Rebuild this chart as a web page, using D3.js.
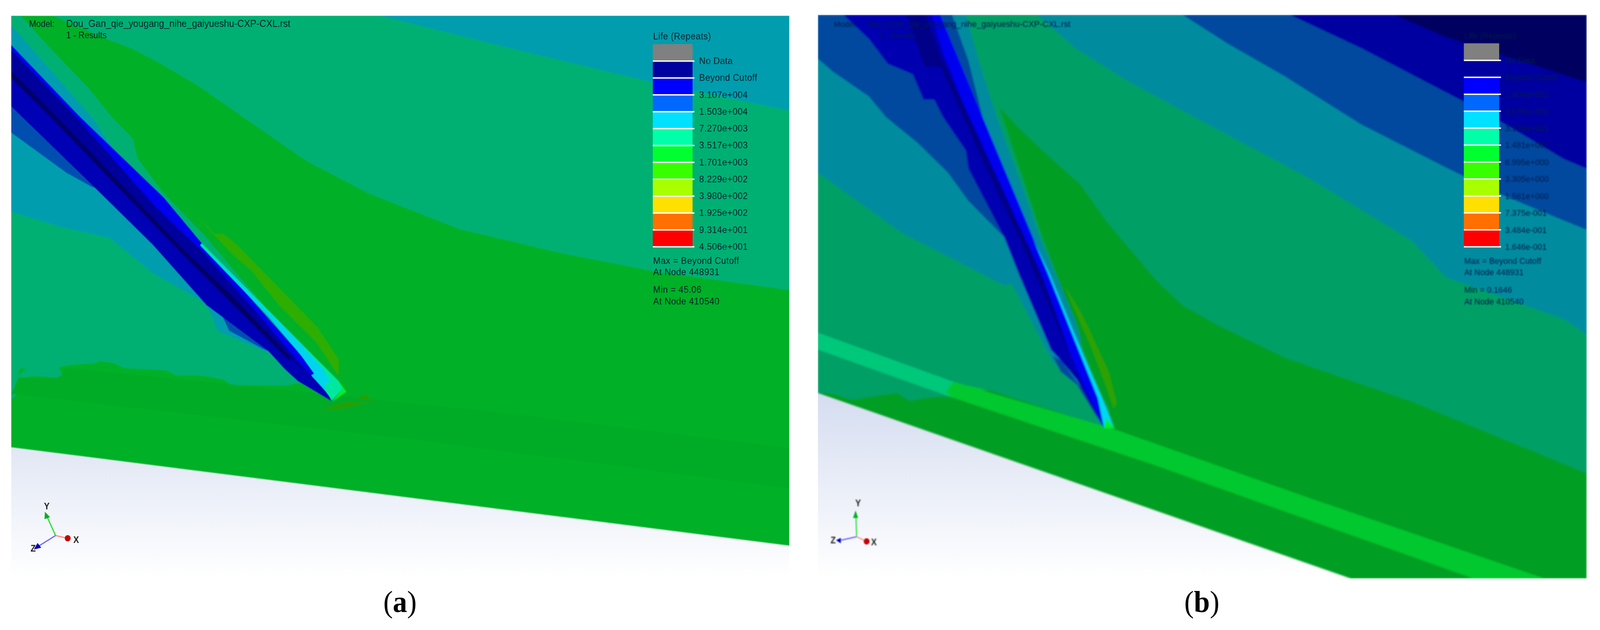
<!DOCTYPE html>
<html>
<head>
<meta charset="utf-8">
<script src="https://cdn.jsdelivr.net/npm/d3@7"></script>
<style>
  html, body { margin: 0; background: #fff; overflow: hidden; }
  text { font-family: "Liberation Sans", Arial, sans-serif; }
</style>
</head>
<body>
<div id="chart"></div>
<script>
var svgWidth = 4348;
var svgHeight = 1614;

// legend tables
var bandColors = ["#808080", "#00009f", "#0000ff", "#0068ff", "#00e0ff", "#00ffa8", "#00ff30", "#38ff00", "#a8ff00", "#ffe000", "#ff7000", "#ff0000"];
var labelsA = ["No Data", "Beyond Cutoff", "3.107e+004", "1.503e+004", "7.270e+003", "3.517e+003", "1.701e+003", "8.229e+002", "3.980e+002", "1.925e+002", "9.314e+001", "4.506e+001"];
var labelsB = ["No Data", "Beyond Cutoff", "1.404e+002", "6.635e+001", "3.134e+001", "1.481e+001", "6.995e+000", "3.305e+000", "1.561e+000", "7.375e-001", "3.484e-001", "1.646e-001"];
var notesA = ["Max = Beyond Cutoff", "At Node 448931", "Min = 45.06", "At Node 410540"];
var notesB = ["Max = Beyond Cutoff", "At Node 448931", "Min = 0.1646", "At Node 410540"];

// contour outlines of (a), in view units 0-1568
var aModel = [[22,39],[1547,39],[1547,1358],[22,1113]];
var aTealRight = [[103,39],[215,100],[257,120],[310,155],[389,214],[476,291],[600,400],[720,480],[900,570],[1100,630],[1280,675],[1547,722],[1547,39]];
var aTealLeft = [[22,39],[41,39],[91,110],[174,220],[219,291],[260,345],[270,395],[320,480],[399,583],[526,774],[664,949],[649,998],[588,952],[563,959],[454,958],[437,944],[393,934],[345,934],[327,922],[242,916],[224,904],[195,899],[184,905],[147,907],[115,913],[122,933],[115,952],[119,959],[117,972],[104,957],[110,940],[70,936],[36,940],[37,934],[51,918],[42,916],[37,920],[36,939],[30,959],[33,983],[22,994]];
var aDarkBand = [[125,916],[419,952],[591,975],[1000,1030],[1547,1115],[1547,1215],[800,1092],[591,1062],[22,980],[30,959],[36,940],[110,940],[122,933]];
var aBlueTop = [[745,39],[1000,120],[1280,205],[1547,275],[1547,39]];
var aBlueUpper = [[22,63],[22,125],[157,300],[320,500],[320,490],[230,385],[180,291]];
var aBlueLower = [[22,300],[22,527],[120,565],[215,592],[300,680],[390,745],[407,764],[427,824],[532,881],[554,913],[590,950],[526,860],[405,740],[180,440],[43,280]];
var aMidBlue = [[22,265],[22,330],[130,430],[180,465],[220,480],[120,360],[43,280]];
var aMidPatch = [[435,784],[449,823],[515,868],[526,874],[470,790]];
var aShaft = [[22,112],[157,291],[320,490],[396,606],[590,884],[616,930],[640,970],[649,998],[584,949],[559,920],[526,874],[405,760],[300,610],[180,460],[43,291],[22,265]];
var aNavy = [[22,125],[149,291],[305,515],[395,622],[498,770],[581,895],[614,926],[610,934],[568,894],[454,735],[360,622],[112,291],[22,176]];
var aStripe = [[22,176],[112,291],[360,622],[454,735],[570,890],[566,897],[454,755],[360,636],[99,291],[22,194]];
var aBright = [[22,112],[157,291],[320,490],[396,606],[590,884],[616,930],[610,934],[581,895],[498,770],[392,620],[305,515],[149,291],[22,125]];
var aMint = [[396,606],[664,949],[671,968],[651,996],[637,972],[616,930],[590,884],[526,787],[392,610]];
var aCyan = [[394,608],[526,775],[585,850],[634,920],[648,952],[637,952],[637,972],[610,934],[616,930],[590,884],[526,787]];
var aTip = [[664,949],[679,975],[652,999],[671,968]];
var aOlive = [[380,530],[421,583],[438,583],[465,610],[623,816],[664,895],[664,931],[661,931],[620,852],[548,761],[493,674],[454,631]];
var aOliveLow1 = [[630,1020],[678,1001],[725,1002],[664,1018]];
var aOliveLow2 = [[699,990],[715,983],[732,997],[719,995]];

// contour outlines of (b)
var bModel = [[35,37],[1542,37],[1542,1440],[1080,1440],[35,978]];
var bTealGreen = [[35,37],[1542,37],[1542,1178],[1200,1000],[950,890],[820,810],[750,760],[700,700],[650,625],[600,550],[550,460],[480,380],[430,320],[390,265],[475,590],[520,740],[590,1000],[617,1068],[590,1060],[370,970],[300,985],[245,990],[215,998],[190,978],[150,985],[100,995],[65,980],[35,978]];
var bTealRight = [[465,37],[540,120],[640,200],[800,310],[1000,445],[1200,600],[1266,690],[1497,794],[1542,832],[1542,37]];
var bMidRight = [[750,37],[840,110],[950,190],[1100,310],[1266,417],[1372,483],[1497,549],[1542,572],[1542,37]];
var bNavyRight = [[960,37],[1100,120],[1266,230],[1350,285],[1497,396],[1542,420],[1542,37]];
var bDeepRight = [[1165,37],[1266,92],[1497,186],[1542,205],[1542,37]];
var bTealLeft = [[35,37],[35,430],[200,580],[400,710],[415,706],[495,900],[514,923],[543,952],[584,1043],[591,1056],[500,800],[430,680],[280,37]];
var bTealStrip = [[277,37],[325,37],[350,150],[385,290],[440,480],[470,590],[500,680],[540,800],[552,852],[540,852],[486,680],[358,291]];
var bMidLeft = [[35,37],[35,146],[64,178],[135,240],[168,291],[230,355],[290,430],[330,500],[400,590],[430,680],[400,590],[280,37]];
var bMidStrip = [[275,37],[298,37],[330,150],[358,291],[320,200]];
var bMidPatch = [[495,885],[511,925],[543,958],[585,1045],[560,980],[511,897]];
var bShaft = [[85,37],[135,97],[172,159],[221,185],[242,248],[263,248],[280,291],[325,375],[330,420],[400,590],[428,680],[492,871],[511,897],[543,946],[591,1056],[596,1065],[584,991],[540,852],[486,680],[358,291],[275,37]];
var bDark = [[209,37],[246,37],[284,167],[244,165]];
var bDarkLine = [[270,150],[280,150],[370,400],[450,620],[530,860],[522,862],[440,622],[358,400]];
var bBright = [[258,37],[280,130],[321,259],[473,680],[528,874],[560,971],[591,1050],[596,1065],[584,991],[540,852],[486,680],[358,291],[275,37]];
var bCyan = [[455,590],[489,680],[545,852],[600,1013],[615,1064],[596,1065],[584,991],[540,852],[486,680]];
var bTip = [[600,1040],[617,1066],[596,1066]];
var bOlive = [[519,712],[550,777],[569,826],[605,926],[621,1004],[615,1017],[598,955],[572,868],[535,761]];
var bStripMint = [[35,828],[300,950],[300,990],[35,870]];
var bStripGreen = [[300,950],[620,1070],[1000,1240],[1460,1440],[1320,1440],[700,1160],[300,990]];
var bStripFlecks = [[300,952],[372,972],[300,965],[300,980],[372,978],[300,990],[285,975]];

var colors = {
  model: "#00b026", modelDark: "#00ab26", teal: "#00b073", tealBlue: "#009dae", midBlue: "#0050b0",
  shaft: "#0000b4", navy: "#00009c", stripe: "#00006a", bright: "#0000ee", mint: "#00e8a0", cyan: "#00d4ee", tip: "#00ee30", olive: "#2eae00", oliveLow: "#28a000",
  bModel: "#009e20", bTeal: "#009f66", bTealBlue: "#008c9e", bMid: "#00489e", bNavy: "#0000a0", bDeep: "#000060", bShaft: "#0000b0", bDark: "#000088", bBright: "#0000f0", bCyan: "#00d8f0", bOlive: "#2fa200", bStripMint: "#00c87a", bStripGreen: "#00c82e"
};

// view units to pixels, one square view per half of the figure
var viewX = d3.scaleLinear().domain([0, 1568]).range([0, svgWidth / 2]);
var viewY = d3.scaleLinear().domain([0, 1568]).range([0, svgHeight]);
var outline = d3.line().x(d => viewX(d[0])).y(d => viewY(d[1]));

// the viewBox keeps the whole figure on the page whatever the window really is
var svg = d3.select("#chart")
  .append("svg")
  .attr("viewBox", `0 0 ${svgWidth} ${svgHeight}`)
  .attr("preserveAspectRatio", "none")
  .style("width", "100vw")
  .style("height", "100vh")
  .style("display", "block");

var defs = svg.append("defs");

function addBlur(id, amount) {
  defs.append("filter").attr("id", id)
    .attr("x", "-5%").attr("y", "-5%").attr("width", "110%").attr("height", "110%")
    .append("feGaussianBlur").attr("stdDeviation", amount);
}
addBlur("blurA", 0.8);
addBlur("blurB", 2.2);
addBlur("blurTextA", 0.7);
addBlur("blurTextB", 1.5);

var fade = defs.append("linearGradient").attr("id", "fade")
  .attr("gradientUnits", "userSpaceOnUse")
  .attr("x1", 0).attr("x2", 0).attr("y1", 1000).attr("y2", 1480);
fade.append("stop").attr("offset", 0).attr("stop-color", "#d4dcf0");
fade.append("stop").attr("offset", 1).attr("stop-color", "#ffffff");

function addClip(id, box) {
  defs.append("clipPath").attr("id", id)
    .append("path").attr("d", outline(box) + "Z");
}
addClip("clipA", [[22,39],[1547,39],[1547,1437],[22,1437]]);
addClip("clipB", [[35,37],[1542,37],[1542,1440],[35,1440]]);

function drawPanel(offset, clipId, blurId, box, layers) {
  var panel = svg.append("g")
    .attr("transform", `translate(${offset}, 0)`)
    .attr("clip-path", `url(#${clipId})`);
  panel.append("path")
    .attr("d", outline(box) + "Z")
    .attr("fill", "url(#fade)");
  panel.append("g")
    .attr("filter", `url(#${blurId})`)
    .selectAll("path")
    .data(layers)
    .enter()
    .append("path")
    .attr("d", d => outline(d.points) + "Z")
    .attr("fill", d => d.color);
}

drawPanel(0, "clipA", "blurA", [[22,39],[1547,39],[1547,1437],[22,1437]], [
  { points: aModel, color: colors.model },
  { points: aTealRight, color: colors.teal },
  { points: aTealLeft, color: colors.teal },
  { points: aDarkBand, color: colors.modelDark },
  { points: aBlueTop, color: colors.tealBlue },
  { points: aBlueUpper, color: colors.tealBlue },
  { points: aBlueLower, color: colors.tealBlue },
  { points: aMidBlue, color: colors.midBlue },
  { points: aMidPatch, color: colors.midBlue },
  { points: aOlive, color: colors.olive },
  { points: aOliveLow1, color: colors.oliveLow },
  { points: aOliveLow2, color: colors.oliveLow },
  { points: aShaft, color: colors.shaft },
  { points: aNavy, color: colors.navy },
  { points: aStripe, color: colors.stripe },
  { points: aBright, color: colors.bright },
  { points: aMint, color: colors.mint },
  { points: aCyan, color: colors.cyan },
  { points: aTip, color: colors.tip }
]);

drawPanel(2174, "clipB", "blurB", [[35,37],[1542,37],[1542,1440],[35,1440]], [
  { points: bModel, color: colors.bModel },
  { points: bTealGreen, color: colors.bTeal },
  { points: bStripMint, color: colors.bStripMint },
  { points: bStripGreen, color: colors.bStripGreen },
  { points: bStripFlecks, color: colors.bStripGreen },
  { points: bTealRight, color: colors.bTealBlue },
  { points: bMidRight, color: colors.bMid },
  { points: bNavyRight, color: colors.bNavy },
  { points: bDeepRight, color: colors.bDeep },
  { points: bTealLeft, color: colors.bTealBlue },
  { points: bTealStrip, color: colors.bTealBlue },
  { points: bMidLeft, color: colors.bMid },
  { points: bMidStrip, color: colors.bMid },
  { points: bMidPatch, color: colors.bMid },
  { points: bOlive, color: colors.bOlive },
  { points: bShaft, color: colors.bShaft },
  { points: bDark, color: colors.bDark },
  { points: bDarkLine, color: colors.bDark },
  { points: bBright, color: colors.bBright },
  { points: bCyan, color: colors.bCyan },
  { points: bTip, color: colors.tip }
]);

// colour legend: one band per label, label sits on the band's lower edge
function drawLegend(o) {
  var bands = d3.scaleBand().domain(o.labels).range([o.top, o.bottom]);
  var g = svg.append("g");
  g.selectAll("rect.band").data(o.labels).enter().append("rect")
    .attr("x", o.x0).attr("width", o.x1 - o.x0)
    .attr("y", d => bands(d)).attr("height", bands.bandwidth())
    .attr("fill", (d, i) => bandColors[i]);
  g.selectAll("rect.tick").data(o.labels).enter().append("rect")
    .attr("x", o.x0).attr("width", o.x1 - o.x0 + 5)
    .attr("y", d => bands(d) + bands.bandwidth() - 1.5).attr("height", 3.5)
    .attr("fill", "#fff");
  var t = svg.append("g").attr("filter", `url(#${o.blur})`).attr("fill", o.ink).attr("font-size", o.size);
  t.selectAll("text").data(o.labels).enter().append("text")
    .attr("x", o.labelX)
    .attr("y", d => bands(d) + bands.bandwidth() + 8)
    .attr("letter-spacing", o.spacing)
    .text(d => d);
  t.append("text").attr("x", o.x0 + 1).attr("y", o.top - 12).attr("letter-spacing", o.spacing).text("Life (Repeats)");
  t.selectAll("text.note").data(o.notes).enter().append("text")
    .attr("x", o.x0 + 1)
    .attr("y", (d, i) => [676, 705, 750, 780][i])
    .attr("letter-spacing", o.spacing)
    .text(d => d);
  t.append("text").attr("x", o.modelX).attr("y", 69).attr("font-size", o.size - 1).text("Model:");
  t.append("text").attr("x", o.nameX).attr("y", 69).attr("font-size", o.nameSize).text("Dou_Gan_qie_yougang_nihe_gaiyueshu-CXP-CXL.rst");
  t.append("text").attr("x", o.nameX + o.resultsDx).attr("y", 98).attr("font-size", o.size - 1).text("1 - Results");
}

drawLegend({ labels: labelsA, notes: notesA, x0: 1774, x1: 1882, top: 113, bottom: 632, labelX: 1900, size: 24, spacing: 0.5, ink: "#04202a", blur: "blurTextA", modelX: 79, nameX: 180, resultsDx: 0, nameSize: 25.2 });
drawLegend({ labels: labelsB, notes: notesB, x0: 3978, x1: 4074, top: 111, bottom: 632, labelX: 4090, size: 22, spacing: 0.2, ink: "#001a4c", blur: "blurTextB", modelX: 2266, nameX: 2358, resultsDx: 31, nameSize: 22.8 });

// orientation triads, in pixels of the page
function drawTriad(t) {
  var g = svg.append("g").attr("filter", `url(#${t.blur})`);
  g.append("line").attr("x1", t.o[0]).attr("y1", t.o[1]).attr("x2", t.y[0]).attr("y2", t.y[1]).attr("stroke", "#20e030").attr("stroke-width", 3);
  g.append("line").attr("x1", t.o[0]).attr("y1", t.o[1]).attr("x2", t.x[0]).attr("y2", t.x[1]).attr("stroke", "#ff8a8a").attr("stroke-width", 3);
  g.append("line").attr("x1", t.o[0]).attr("y1", t.o[1]).attr("x2", t.z[0]).attr("y2", t.z[1]).attr("stroke", "#6464ff").attr("stroke-width", 3);
  g.append("path").attr("d", d3.line()(t.yHead) + "Z").attr("fill", "#00b020");
  g.append("path").attr("d", d3.line()(t.zHead) + "Z").attr("fill", "#0000b4");
  g.append("circle").attr("cx", t.x[0]).attr("cy", t.x[1]).attr("r", 8).attr("fill", "#c80000");
  g.selectAll("text").data(t.labels).enter().append("text")
    .attr("x", d => d[1]).attr("y", d => d[2])
    .attr("text-anchor", "middle")
    .attr("font-size", 23).attr("font-weight", "bold").attr("fill", "#222")
    .text(d => d[0]);
}

drawTriad({ blur: "blurTextA", o: [151, 1372], y: [127, 1322], x: [184, 1379], z: [100, 1402],
  yHead: [[122,1311],[121,1330],[136,1325]], zHead: [[92,1408],[102,1391],[112,1403]],
  labels: [["Y", 127, 1305], ["X", 207, 1391], ["Z", 90, 1413]] });
drawTriad({ blur: "blurTextB", o: [2328, 1375], y: [2326, 1325], x: [2355, 1387], z: [2285, 1384],
  yHead: [[2325,1308],[2318,1327],[2332,1327]], zHead: [[2272,1384],[2285,1378],[2285,1392]],
  labels: [["Y", 2332, 1297], ["X", 2375, 1397], ["Z", 2264, 1392]] });

// captions
var captions = [{ letter: "a", x: 1087 }, { letter: "b", x: 3266 }];
var caption = svg.selectAll("text.caption").data(captions).enter().append("text")
  .attr("x", d => d.x).attr("y", 1568)
  .attr("text-anchor", "middle")
  .style("font-family", "'Liberation Serif', 'Times New Roman', serif")
  .attr("font-size", 78).attr("fill", "#000");
caption.append("tspan").text("(");
caption.append("tspan").attr("font-weight", "bold").text(d => d.letter);
caption.append("tspan").text(")");
</script>
</body>
</html>
